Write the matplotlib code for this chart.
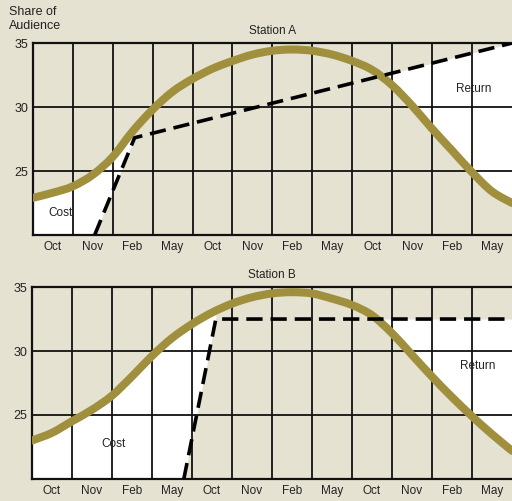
import numpy as np
import matplotlib
matplotlib.use("Agg")
import matplotlib.pyplot as plt
from matplotlib.path import Path
from matplotlib.patches import PathPatch

plt.rcParams['font.family'] = ['Liberation Sans', 'DejaVu Sans']

# month labels under each grid cell
months = ['Oct', 'Nov', 'Feb', 'May', 'Oct', 'Nov', 'Feb', 'May', 'Oct', 'Nov', 'Feb', 'May']

# audience share curves, read every half cell
xs = [0, 0.5, 1, 1.5, 2, 2.5, 3, 3.5, 4, 4.5, 5, 5.5, 6, 6.5, 7, 7.5, 8, 8.5,
      9, 9.5, 10, 10.5, 11, 11.5, 12]
share_a = [22.9, 23.3, 23.8, 24.7, 26.1, 28.1, 29.8, 31.2, 32.2, 33.0, 33.6, 34.1,
           34.4, 34.5, 34.4, 34.1, 33.6, 32.9, 31.7, 30.1, 28.3, 26.6, 24.9, 23.4, 22.5]
share_b = [23.0, 23.6, 24.5, 25.4, 26.5, 28.0, 29.6, 31.0, 32.1, 33.0, 33.7, 34.2,
           34.5, 34.6, 34.5, 34.1, 33.6, 32.8, 31.4, 29.7, 28.0, 26.4, 24.9, 23.5, 22.2]

# dashed break-even lines (vertices)
dash_a_x = [1.55, 2.55, 12]
dash_a_y = [20, 27.6, 35]
dash_b_x = [3.8, 4.6, 12]
dash_b_y = [20, 32.5, 32.5]

panels = [
    ('Station A', share_a, dash_a_x, dash_a_y, (0.7, 21.7), (11.05, 31.4), 2.55),
    ('Station B', share_b, dash_b_x, dash_b_y, (2.05, 22.75), (11.15, 28.8), 4.6),
]

bg = '#e5e2d2'
curve_col = '#a0903e'
txt = '#222222'


def smooth_path(px, py):
    # catmull-rom through the read points, drawn as bezier segments
    p = np.column_stack([px, py]).astype(float)
    p = np.vstack([p[0], p, p[-1]])
    verts = [p[1]]
    codes = [Path.MOVETO]
    for i in range(1, len(p) - 2):
        c1 = p[i] + (p[i + 1] - p[i - 1]) / 6
        c2 = p[i + 1] - (p[i + 2] - p[i]) / 6
        verts += [c1, c2, p[i + 1]]
        codes += [Path.CURVE4] * 3
    return Path(verts, codes)


fig = plt.figure(figsize=(5.12, 5.01), dpi=100, facecolor=bg)
boxes = [[0.064, 0.531, 0.936, 0.383], [0.062, 0.044, 0.938, 0.383]]

for box, (title, share, dx, dy, cost_pos, ret_pos, knee) in zip(boxes, panels):
    ax = fig.add_axes(box)
    ax.set_facecolor(bg)
    ax.set_xlim(0, 12)
    ax.set_ylim(20, 35)

    x = np.union1d(xs, dx)
    curve = np.interp(x, xs, share)
    dash = np.interp(x, dx, dy, left=20)

    # cost area: left of the rising dashed line, under the curve
    ax.fill_between(x, np.maximum(dash, 20), curve,
                    where=(curve >= dash) & (x <= knee),
                    color='white', interpolate=True, lw=0, zorder=1)
    # return area: under the dashed line, above the curve
    ax.fill_between(x, curve, dash, where=(dash >= curve) & (x > knee),
                    color='white', interpolate=True, lw=0, zorder=1)

    for gx in range(1, 12):
        ax.axvline(gx, color='#111111', lw=1.3, zorder=2)
    for gy in (25, 30):
        ax.axhline(gy, color='#111111', lw=1.3, zorder=2)

    ax.add_patch(PathPatch(smooth_path(xs, share), fill=False,
                           edgecolor=curve_col, lw=5.8, capstyle='round',
                           joinstyle='round', zorder=3))
    ax.plot(dx, dy, color='black', lw=2.6, dashes=(4.5, 2.2), zorder=4)

    ax.text(cost_pos[0], cost_pos[1], 'Cost', fontsize=8.5, color=txt,
            ha='center', va='center', zorder=5)
    ax.text(ret_pos[0], ret_pos[1], 'Return', fontsize=8.5, color=txt,
            ha='center', va='center', zorder=5)

    ax.set_xticks(np.arange(12) + 0.5)
    ax.set_xticklabels(months, fontsize=8.5, color=txt)
    ax.set_yticks([25, 30, 35])
    ax.set_yticklabels(['25', '30', '35'], fontsize=9, color=txt)
    ax.tick_params(length=0, pad=4)
    ax.tick_params(axis='y', pad=3)
    for s in ('left', 'bottom', 'top'):
        ax.spines[s].set_color('#111111')
        ax.spines[s].set_linewidth(1.6)
    ax.spines['right'].set_visible(False)

    ax.text(0.5, 1.03, title, transform=ax.transAxes, fontsize=8.5,
            color=txt, ha='center', va='bottom')

fig.text(0.018, 0.988, 'Share of\nAudience', fontsize=9, color=txt,
         ha='left', va='top', linespacing=1.25)

fig.savefig('out.png', dpi=100, facecolor=bg)
